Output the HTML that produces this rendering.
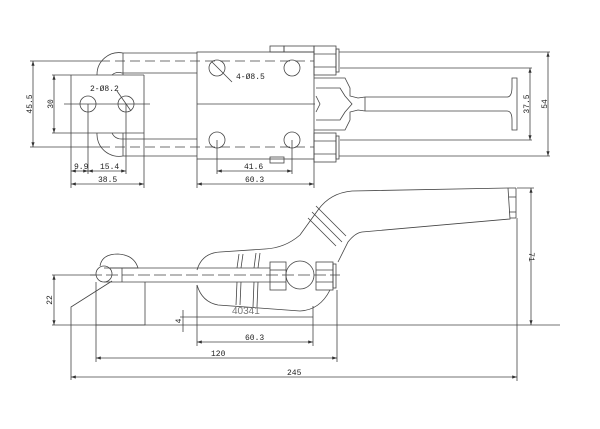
<!DOCTYPE html>
<html><head><meta charset="utf-8"><style>
html,body{margin:0;padding:0;background:#fff}
svg{display:block}
text{font-family:"Liberation Mono",monospace;font-size:8px;fill:#222}
</style></head><body>
<svg width="600" height="429" viewBox="0 0 600 429" xmlns="http://www.w3.org/2000/svg">
<defs><marker id="a" markerWidth="6" markerHeight="4" refX="6" refY="2" orient="auto-start-reverse"><path d="M0,0 L6,2 L0,4z" fill="#333"/></marker></defs>
<g fill="none" stroke="#444" stroke-width="0.8">
<line x1="30" y1="61" x2="100" y2="61"/><line x1="30" y1="147" x2="100" y2="147"/>
<line x1="33" y1="61" x2="33" y2="147" marker-start="url(#a)" marker-end="url(#a)"/>
<line x1="52" y1="75" x2="144" y2="75"/><line x1="52" y1="133" x2="144" y2="133"/>
<line x1="54" y1="75" x2="54" y2="133" marker-start="url(#a)" marker-end="url(#a)"/>
<line x1="71" y1="75" x2="71" y2="188"/><line x1="144" y1="75" x2="144" y2="188"/>
<line x1="64" y1="104" x2="150" y2="104"/>
<circle cx="88" cy="104" r="8"/><circle cx="126" cy="104" r="8"/>
<line x1="88" y1="104" x2="88" y2="174"/><line x1="126" y1="104" x2="126" y2="174"/>
<line x1="117" y1="91" x2="131" y2="111"/>
<path d="M97,75 A22,22 0 0 1 123,53 L197,53"/>
<path d="M97,133 A22,22 0 0 0 123,156 L197,156"/>
<path d="M112,75 A10,10 0 0 1 122,73 L197,73"/>
<path d="M112,133 A10,10 0 0 0 122,139 L197,139"/>
<line x1="123" y1="53" x2="123" y2="75"/><line x1="123" y1="133" x2="123" y2="156"/>
<line x1="100" y1="61" x2="314" y2="61" stroke-dasharray="10,5"/>
<line x1="100" y1="147" x2="314" y2="147" stroke-dasharray="10,5"/>
<rect x="197" y="52" width="117" height="107"/>
<line x1="197" y1="104" x2="315" y2="104"/>
<circle cx="217" cy="68" r="8"/><circle cx="292" cy="68" r="8"/>
<circle cx="217" cy="140" r="8"/><circle cx="292" cy="140" r="8"/>
<line x1="212" y1="62" x2="232" y2="82"/>
<line x1="217" y1="140" x2="217" y2="174"/><line x1="292" y1="140" x2="292" y2="174"/>
<line x1="197" y1="159" x2="197" y2="188"/><line x1="314" y1="159" x2="314" y2="188"/>
<rect x="270" y="46" width="14" height="6"/><rect x="270" y="157" width="14" height="6"/>
<rect x="284" y="46" width="30" height="6"/>
<rect x="314" y="46" width="22" height="29"/><rect x="336" y="49" width="3" height="23"/>
<line x1="314" y1="54" x2="336" y2="54"/><line x1="314" y1="67" x2="336" y2="67"/>
<rect x="314" y="133" width="22" height="29"/><rect x="336" y="136" width="3" height="23"/>
<line x1="314" y1="141" x2="336" y2="141"/><line x1="314" y1="154" x2="336" y2="154"/>
<path d="M314,78 L345,78 L350,88 L350,96 L358,98 L365,97"/>
<path d="M314,130 L345,130 L350,120 L350,112 L358,110 L365,111"/>
<path d="M316,88 L340,88 L345,96 L352,104 L345,112 L340,120 L316,120"/>
<path d="M316,96 L320,104 L316,112"/>
<line x1="365" y1="97" x2="365" y2="111"/>
<path d="M365,97 L507,97 Q512,97 512,87 L512,78 L517,78 L517,130 L512,130 L512,120 Q512,111 507,111 L365,111"/>
<line x1="339" y1="52" x2="550" y2="52"/><line x1="339" y1="156" x2="550" y2="156"/>
<line x1="548" y1="52" x2="548" y2="156" marker-start="url(#a)" marker-end="url(#a)"/>
<line x1="340" y1="68" x2="532" y2="68"/><line x1="340" y1="140" x2="532" y2="140"/>
<line x1="530" y1="68" x2="530" y2="140" marker-start="url(#a)" marker-end="url(#a)"/>
<line x1="71" y1="171" x2="88" y2="171" marker-start="url(#a)" marker-end="url(#a)"/>
<line x1="88" y1="171" x2="126" y2="171" marker-start="url(#a)" marker-end="url(#a)"/>
<line x1="71" y1="184" x2="144" y2="184" marker-start="url(#a)" marker-end="url(#a)"/>
<line x1="217" y1="171" x2="292" y2="171" marker-start="url(#a)" marker-end="url(#a)"/>
<line x1="197" y1="184" x2="314" y2="184" marker-start="url(#a)" marker-end="url(#a)"/>

<path d="M100,266 Q102,254 118,254 Q134,255 138,268 L110,268"/>
<circle cx="104" cy="274" r="8"/>
<line x1="104" y1="268" x2="270" y2="268"/><line x1="104" y1="282" x2="270" y2="282"/>
<line x1="122" y1="268" x2="122" y2="282"/>
<line x1="90" y1="275" x2="340" y2="275" stroke-dasharray="12,4"/>
<polyline points="96,282 96,325 145,325 145,282"/>
<polyline points="112,281 71,307 71,380"/>
<line x1="52" y1="275" x2="96" y2="275"/><line x1="52" y1="325" x2="560" y2="325"/>
<line x1="54" y1="275" x2="54" y2="325" marker-start="url(#a)" marker-end="url(#a)"/>
<path d="M197,270 Q202,253 220,252 L265,249 Q285,248 300,235 L318,210 Q330,193 352,191 L508,188"/>
<path d="M197,285 Q202,302 218,305 L300,311 Q320,310 330,290"/>
<path d="M508,188 L510,219 L362,232 Q355,233 348,242 L338,262"/>
<line x1="508" y1="188" x2="516" y2="188"/><line x1="516" y1="188" x2="516" y2="218"/><line x1="510" y1="218" x2="516" y2="218"/>
<line x1="509" y1="197" x2="516" y2="197"/><line x1="509" y1="212" x2="516" y2="212"/>
<line x1="316" y1="206" x2="346" y2="236"/><line x1="312" y1="212" x2="342" y2="242"/><line x1="308" y1="218" x2="336" y2="246"/>
<line x1="239" y1="254" x2="237" y2="268"/><line x1="243" y1="254" x2="241" y2="268"/>
<line x1="256" y1="253" x2="254" y2="268"/><line x1="260" y1="253" x2="258" y2="268"/>
<line x1="237" y1="282" x2="236" y2="305"/><line x1="241" y1="282" x2="240" y2="305"/>
<line x1="254" y1="282" x2="253" y2="307"/><line x1="258" y1="282" x2="257" y2="307"/>
<rect x="270" y="262" width="16" height="28"/><line x1="270" y1="270" x2="286" y2="270"/><line x1="270" y1="282" x2="286" y2="282"/>
<circle cx="300" cy="275" r="14"/>
<rect x="316" y="262" width="17" height="28"/><rect x="333" y="264" width="3" height="24"/>
<line x1="316" y1="270" x2="333" y2="270"/><line x1="316" y1="282" x2="333" y2="282"/>
<line x1="197" y1="285" x2="197" y2="346"/><line x1="313" y1="306" x2="313" y2="346"/>
<line x1="337" y1="290" x2="337" y2="362"/><line x1="517" y1="218" x2="517" y2="381"/>
<line x1="96" y1="325" x2="96" y2="362"/>
<line x1="180" y1="317" x2="313" y2="317"/>
<line x1="183" y1="310" x2="183" y2="332"/>
<line x1="197" y1="342" x2="313" y2="342" marker-start="url(#a)" marker-end="url(#a)"/>
<line x1="96" y1="358" x2="337" y2="358" marker-start="url(#a)" marker-end="url(#a)"/>
<line x1="71" y1="377" x2="517" y2="377" marker-start="url(#a)" marker-end="url(#a)"/>
<line x1="517" y1="188" x2="534" y2="188"/>
<line x1="531" y1="188" x2="531" y2="325" marker-start="url(#a)" marker-end="url(#a)"/>
</g>
<text x="90" y="91">2-Ø8.2</text>
<text x="236" y="79">4-Ø8.5</text>
<text x="74" y="169">9.9</text>
<text x="100" y="169">15.4</text>
<text x="98" y="182">38.5</text>
<text x="244" y="169">41.6</text>
<text x="245" y="182">60.3</text>
<text transform="translate(32,104) rotate(-90)" text-anchor="middle">45.5</text>
<text transform="translate(53,104) rotate(-90)" text-anchor="middle">30</text>
<text transform="translate(529,104) rotate(-90)" text-anchor="middle">37.5</text>
<text transform="translate(547,104) rotate(-90)" text-anchor="middle">54</text>
<text transform="translate(529,257) rotate(90)" text-anchor="middle">71</text>
<text transform="translate(52,300) rotate(-90)" text-anchor="middle">22</text>
<text transform="translate(181,321) rotate(-90)" text-anchor="middle">4</text>
<text x="232" y="314" style="font-family:'Liberation Sans',sans-serif;font-size:10px;fill:#777">40341</text>
<text x="245" y="340">60.3</text>
<text x="211" y="356">120</text>
<text x="287" y="375">245</text>
</svg>
</body></html>
